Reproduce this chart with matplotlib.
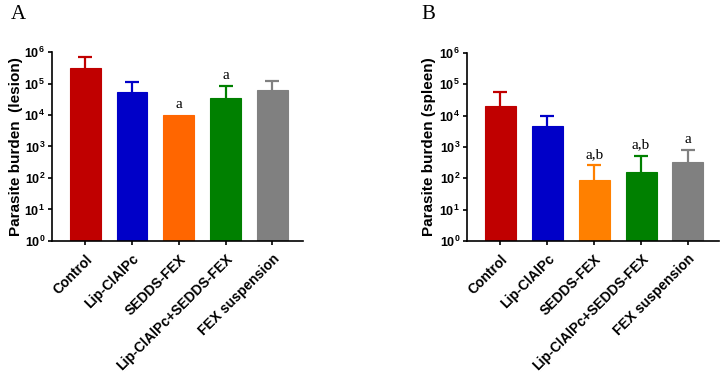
import numpy as np
import matplotlib.pyplot as plt

plt.rcParams["mathtext.fontset"] = "custom"
plt.rcParams["mathtext.rm"] = "Liberation Sans:bold"
plt.rcParams["mathtext.bf"] = "Liberation Sans:bold"

groups = ["Control", "Lip-ClAlPc", "SEDDS-FEX", "Lip-ClAlPc+SEDDS-FEX", "FEX suspension"]
lesion_mean = [3.2e5, 5.3e4, 1.0e4, 3.4e4, 6.2e4]
lesion_err_top = [7.0e5, 1.1e5, 1.0e4, 8.3e4, 1.2e5]
lesion_marks = ["", "", "a", "a", ""]
spleen_mean = [1.95e4, 4.5e3, 90, 155, 335]
spleen_err_top = [5.5e4, 9.4e3, 255, 530, 770]
spleen_marks = ["", "", "a,b", "a,b", "a"]
colors_a = ["#C00000", "#0000C8", "#FF6600", "#008000", "#808080"]
colors_b = ["#C00000", "#0000C8", "#FF8000", "#008000", "#808080"]

fig = plt.figure(figsize=(7.24, 3.8), dpi=100)
ax_a = fig.add_axes([0.0718, 0.366, 0.347, 0.497])
ax_b = fig.add_axes([0.645, 0.366, 0.348, 0.495])


def draw(ax, means, tops, marks, colors, ylabel, label_x):
    x = np.arange(len(groups))
    ax.bar(x, means, width=0.66, color=colors, edgecolor=colors, linewidth=0.8, zorder=2)
    for xi, m, t, c in zip(x, means, tops, colors):
        if t > m:
            ax.vlines(xi, m, t, color=c, lw=1.6, zorder=1)
            ax.hlines(t, xi - 0.15, xi + 0.15, color=c, lw=1.6, zorder=1)
    for xi, t, s in zip(x, tops, marks):
        if s:
            ax.text(xi, t * 1.35, s, ha="center", va="bottom",
                    family="Liberation Serif", fontsize=11)
    ax.set_yscale("log")
    ax.set_ylim(1, 1e6)
    ax.set_xlim(-0.71, 4.66)
    ax.set_yticks([10.0 ** k for k in range(7)])
    ax.set_yticklabels([r"$10^{%d}$" % k for k in range(7)])
    ax.yaxis.set_minor_locator(plt.NullLocator())
    ax.set_xticks(x)
    ax.set_xticklabels(groups, rotation=45, ha="right", rotation_mode="anchor",
                       fontweight="bold", fontsize=10, family="Liberation Sans")
    ax.set_ylabel(ylabel, fontweight="bold", fontsize=11, family="Liberation Sans",
                  va="center")
    ax.yaxis.set_label_coords(label_x, 0.5)
    for lab in ax.get_yticklabels():
        lab.set_fontsize(9)
    ax.spines["top"].set_visible(False)
    ax.spines["right"].set_visible(False)
    ax.spines["left"].set_linewidth(1.2)
    ax.spines["bottom"].set_linewidth(1.2)
    ax.tick_params(axis="both", length=3, width=1.2, pad=2)
    ax.tick_params(axis="x", pad=5)


draw(ax_a, lesion_mean, lesion_err_top, lesion_marks, colors_a,
     "Parasite burden  (lesion)", -0.145)
draw(ax_b, spleen_mean, spleen_err_top, spleen_marks, colors_b,
     "Parasite burden (spleen)", -0.152)

fig.text(0.025, 0.963, "A", family="Liberation Serif", fontsize=15, va="center", ha="center")
fig.text(0.591, 0.963, "B", family="Liberation Serif", fontsize=15, va="center", ha="center")

fig.savefig("out.png", dpi=100)
